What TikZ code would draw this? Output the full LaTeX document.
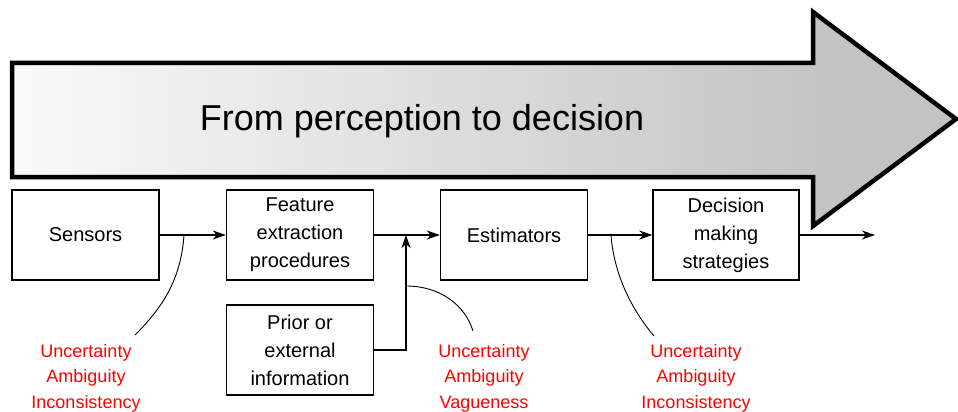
\documentclass[tikz,border=0pt]{standalone}
\usepackage{fontspec}
\setmainfont{Liberation Sans}
\usepackage{tikz}
\usetikzlibrary{arrows.meta}
\usepackage{xcolor}

\pgfdeclarehorizontalshading{arrowfade}{100bp}{color(0bp)=(white); color(25bp)=(black!2);
  color(67.5bp)=(black!23); color(100bp)=(black!23)}

\begin{document}
\begin{tikzpicture}[x=1pt, y=-1pt, >={Stealth[length=13pt,width=9pt,inset=4pt]},
  stagebox/.style={draw, line width=1.4pt, minimum width=147pt, minimum height=90pt,
    inner sep=0pt, align=center, font=\fontsize{20}{28}\selectfont},
  errlabel/.style={text=red, align=center, inner sep=0pt, font=\fontsize{18}{25.5}\selectfont},
  flow/.style={->, line width=1.2pt},
  lead/.style={line width=0.9pt}]

  \useasboundingbox (0,0) rectangle (958,412);

  % Big arrow in the background
  \draw[line width=4.5pt, shading=arrowfade, miter limit=10]
    (12,63) -- (813,63) -- (813,12) -- (956,119) -- (813,226) -- (813,177) -- (12,177) -- cycle;
  \node (title) at (422,121) {\fontsize{36}{43}\selectfont From perception to decision};

  % Define coordinates for nodes
  \node[stagebox] (sens) at (85.5,235) {Sensors};
  \node[stagebox] (feat) at (300,235) {Feature\\extraction\\procedures};
  \node[stagebox] (est) at (514,235) {Estimators};
  \node[stagebox, minimum width=146pt] (dec) at (726,235) {Decision\\making\\strategies};
  \node[stagebox] (prior) at (300,350) {Prior or\\external\\information};
  \coordinate (out) at (875,235);
  \coordinate (join) at (406,235);

  % Error labels
  \node[errlabel] (err1) at (86,378) {Uncertainty\\Ambiguity\\Inconsistency};
  \node[errlabel] (err2) at (484,378) {Uncertainty\\Ambiguity\\Vagueness};
  \node[errlabel] (err3) at (696,378) {Uncertainty\\Ambiguity\\Inconsistency};

  % Draw arrows between nodes
  \draw[flow] (sens) -- (feat);
  \draw[flow] (feat) -- (est);
  \draw[flow] (est) -- (dec);
  \draw[flow] (dec) -- (out);
  \draw[flow] (prior) -| (join);

  % Leader lines to the labels
  \coordinate (p1) at (184,235);
  \coordinate (q1) at (135,335);
  \coordinate (p2) at (406,286);
  \coordinate (q2) at (473,331);
  \coordinate (p3) at (611,235);
  \coordinate (q3) at (654,336);
  \draw[lead] (p1) .. controls (181,280) and (162,308) .. (q1);
  \draw[lead] (p2) .. controls (440,286) and (465,305) .. (q2);
  \draw[lead] (p3) .. controls (614,275) and (632,310) .. (q3);
\end{tikzpicture}
\end{document}
